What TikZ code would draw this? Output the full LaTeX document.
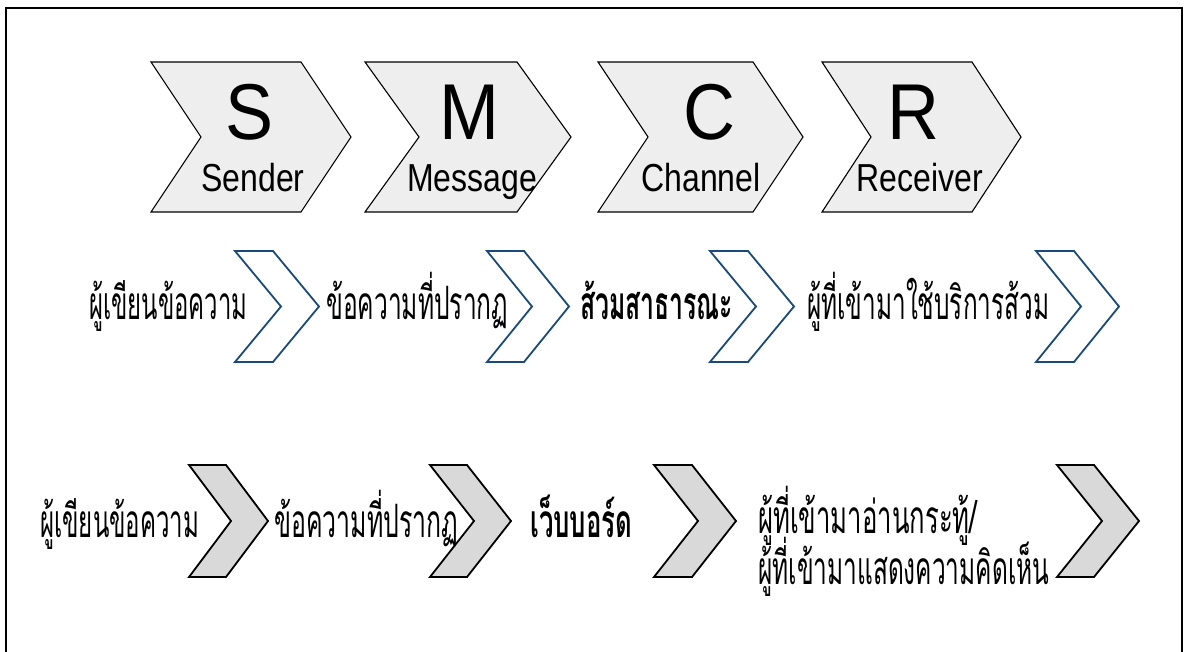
\documentclass[tikz,border=0pt]{standalone}
\usepackage{fontspec}
\usepackage{graphicx}
\setmainfont{Liberation Sans}
\newfontfamily\thaifont[Script=Thai]{Loma}
\definecolor{topfill}{HTML}{EEEEEE}
\definecolor{botfill}{HTML}{D9D9D9}
\definecolor{navy}{HTML}{1A4A7A}
\newcommand\chev[6]{% style, L, T, B, e, d
  \draw[#1] (#2,#3) -- ++(#5,0) -- ({#2+#5+#6},{(#3+#4)/2}) -- ({#2+#5},#4) -- (#2,#4) -- ({#2+#6},{(#3+#4)/2}) -- cycle;}
\newcommand\thtext[2]{\resizebox{#1pt}{\height}{\thaifont #2}}
\newcommand\tallbig[1]{\scalebox{1}[1.1]{#1}}
\newcommand\talllab[1]{\scalebox{1}[1.22]{#1}}
\begin{document}
\begin{tikzpicture}[x=1pt,y=-1pt,
  topchev/.style={draw=black,fill=topfill,line width=1.1pt,line join=miter},
  midchev/.style={draw=navy,fill=white,line width=1.8pt,line join=miter},
  botchev/.style={draw=black,fill=botfill,line width=1.8pt,line join=miter},
  bigletter/.style={inner sep=0pt,anchor=base,font=\fontsize{72}{80}\selectfont},
  toplabel/.style={inner sep=0pt,anchor=base,font=\fontsize{32}{36}\selectfont},
  thlabel/.style={inner sep=0pt,anchor=base west,font=\fontsize{46}{52}\selectfont}]
\useasboundingbox (0,0) rectangle (1187,652);
\fill[white] (0,0) rectangle (1187,652);
% frame
\draw[line width=1.8pt] (6,652) -- (6,8) -- (1182,8) -- (1182,652);
% top row chevrons
\chev{topchev}{151}{62}{212}{150}{50}
\chev{topchev}{365}{62}{212}{152}{54}
\chev{topchev}{598}{62}{212}{155}{50}
\chev{topchev}{822}{62}{212}{150}{49}
\node[bigletter] (s) at (250,140) {\tallbig{S}};
\node[bigletter] (m) at (469,140) {\tallbig{M}};
\node[bigletter] (c) at (709,140) {\tallbig{C}};
\node[bigletter] (r) at (913,140) {\tallbig{R}};
\node[toplabel] (sl) at (253,192) {\talllab{Sender}};
\node[toplabel] (ml) at (472,192) {\talllab{Message}};
\node[toplabel] (cl) at (701,192) {\talllab{Channel}};
\node[toplabel] (rl) at (920,192) {\talllab{Receiver}};
% middle row
\chev{midchev}{235}{251}{362}{38}{46}
\chev{midchev}{487}{251}{362}{37}{45}
\chev{midchev}{710}{251}{362}{38}{46}
\chev{midchev}{1036}{251}{362}{38}{45}
\node[thlabel] (a1) at (89,320) {\thtext{158}{ผู้เขียนข้อความ}};
\node[thlabel] (a2) at (326,320) {\thtext{182}{ข้อความที่ปรากฏ}};
\node[thlabel] (a3) at (580,320) {\thtext{153}{\bfseries ส้วมสาธารณะ}};
\node[thlabel] (a4) at (807,320) {\thtext{242}{ผู้ที่เข้ามาใช้บริการส้วม}};
% bottom row
\chev{botchev}{189}{465}{577}{37}{42}
\chev{botchev}{430}{465}{577}{37}{44}
\chev{botchev}{654}{465}{577}{38}{44}
\chev{botchev}{1057}{465}{577}{37}{45}
\node[thlabel] (b1) at (40,537) {\thtext{159}{ผู้เขียนข้อความ}};
\node[thlabel] (b2) at (274,537) {\thtext{184}{ข้อความที่ปรากฏ}};
\node[thlabel] (b3) at (530,537) {\thtext{102}{\bfseries เว็บบอร์ด}};
\node[thlabel] (b4) at (758,533) {\thtext{219}{ผู้ที่เข้ามาอ่านกระทู้/}};
\node[thlabel] (b5) at (758,584) {\thtext{291}{ผู้ที่เข้ามาแสดงความคิดเห็น}};
\end{tikzpicture}
\end{document}
